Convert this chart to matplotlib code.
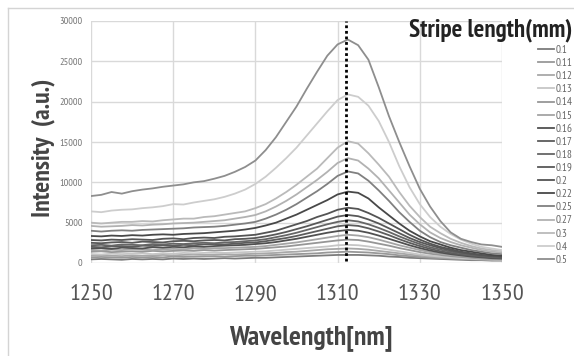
import matplotlib
matplotlib.use("Agg")
import matplotlib.pyplot as plt
from matplotlib import font_manager
from matplotlib.lines import Line2D
import numpy as np

# wavelength grid, 2.5 nm steps from 1250 to 1350
wavelength = np.arange(1250, 1350.1, 2.5)

stripe_labels = ["0.1", "0.11", "0.12", "0.13", "0.14", "0.15", "0.16", "0.17", "0.18",
                 "0.19", "0.2", "0.22", "0.25", "0.27", "0.3", "0.4", "0.5"]

s_010 = [450, 500, 450, 400, 500, 450, 500, 450, 550, 500, 550, 500, 550, 600, 550, 600, 650,
         650, 700, 750, 800, 850, 900, 950, 1000, 1000, 1000, 950, 900, 800, 750, 650, 600,
         550, 500, 450, 400, 350, 350, 300, 300]
s_011 = [700, 750, 700, 650, 750, 700, 750, 700, 800, 750, 800, 800, 850, 800, 850, 900, 900,
         950, 1000, 1050, 1100, 1150, 1200, 1300, 1350, 1400, 1350, 1300, 1200, 1100, 950, 850,
         750, 650, 600, 550, 500, 450, 400, 350, 350]
s_012 = [900, 950, 900, 850, 950, 900, 950, 1000, 950, 1000, 1050, 1000, 1050, 1100, 1050, 1100,
         1150, 1200, 1250, 1350, 1400, 1500, 1600, 1700, 1750, 1800, 1750, 1650, 1500, 1350, 1200,
         1050, 900, 800, 700, 600, 550, 500, 450, 400, 350]
s_013 = [1100, 1050, 1150, 1100, 1150, 1200, 1100, 1200, 1150, 1250, 1200, 1250, 1300, 1250, 1300,
         1350, 1400, 1450, 1550, 1650, 1750, 1850, 1950, 2050, 2200, 2250, 2200, 2050, 1850, 1650,
         1450, 1250, 1050, 900, 800, 700, 600, 550, 500, 450, 400]
s_014 = [1400, 1450, 1350, 1400, 1450, 1400, 1500, 1450, 1500, 1550, 1500, 1600, 1550, 1600, 1650,
         1700, 1750, 1850, 1950, 2050, 2200, 2350, 2500, 2650, 2800, 2900, 2850, 2650, 2400, 2150,
         1850, 1600, 1350, 1150, 1000, 850, 750, 650, 550, 500, 450]
s_015 = [1600, 1550, 1650, 1600, 1700, 1650, 1600, 1700, 1750, 1700, 1800, 1750, 1850, 1850, 1900,
         1950, 2000, 2100, 2250, 2400, 2550, 2750, 2950, 3150, 3350, 3500, 3400, 3200, 2900, 2550,
         2200, 1900, 1600, 1350, 1150, 1000, 850, 750, 650, 550, 500]
s_016 = [1800, 1850, 1750, 1900, 1850, 1800, 1950, 1900, 2000, 1950, 2050, 2000, 2100, 2150, 2200,
         2250, 2350, 2450, 2600, 2800, 3000, 3250, 3500, 3750, 3950, 4100, 4000, 3750, 3400, 3000,
         2600, 2200, 1850, 1550, 1300, 1100, 950, 800, 700, 600, 550]
s_017 = [2000, 1950, 2050, 2100, 2000, 2150, 2100, 2200, 2150, 2250, 2200, 2300, 2350, 2300, 2400,
         2500, 2550, 2700, 2900, 3100, 3350, 3650, 3950, 4250, 4550, 4700, 4600, 4300, 3900, 3450,
         2950, 2500, 2100, 1750, 1450, 1250, 1050, 900, 800, 700, 650]
s_018 = [2200, 2250, 2150, 2300, 2250, 2200, 2350, 2300, 2400, 2350, 2450, 2500, 2450, 2550, 2600,
         2700, 2800, 2950, 3200, 3450, 3750, 4100, 4450, 4800, 5100, 5300, 5150, 4800, 4350, 3850,
         3300, 2800, 2350, 1950, 1650, 1400, 1200, 1000, 900, 800, 700]
s_019 = [2500, 2450, 2550, 2600, 2500, 2650, 2600, 2550, 2700, 2750, 2700, 2800, 2850, 2800, 2950,
         3000, 3100, 3300, 3550, 3850, 4200, 4550, 4950, 5350, 5750, 5950, 5800, 5400, 4900, 4300,
         3700, 3100, 2600, 2200, 1850, 1550, 1300, 1100, 950, 850, 750]
s_020 = [2850, 2800, 2900, 2850, 2950, 2900, 2850, 3000, 3050, 2950, 3100, 3150, 3100, 3250, 3300,
         3400, 3500, 3750, 4000, 4400, 4800, 5200, 5700, 6100, 6600, 6850, 6700, 6200, 5600, 4900,
         4200, 3500, 2900, 2400, 2000, 1700, 1400, 1200, 1000, 900, 800]
s_022 = [3350, 3300, 3400, 3350, 3450, 3400, 3500, 3550, 3500, 3600, 3650, 3700, 3800, 3900, 4000,
         4150, 4350, 4650, 5000, 5500, 6000, 6600, 7200, 7800, 8500, 8850, 8700, 8000, 6900, 5900,
         4900, 4000, 3300, 2700, 2300, 1900, 1600, 1400, 1200, 1000, 900]
s_025 = [4000, 3900, 4000, 4050, 4000, 4100, 4150, 4200, 4250, 4300, 4400, 4450, 4500, 4600, 4750,
         4900, 5100, 5500, 6000, 6600, 7300, 8100, 8900, 9800, 10800, 11350, 11100, 10200, 9000,
         7700, 6300, 5100, 4000, 3200, 2600, 2200, 1900, 1600, 1400, 1200, 1100]
s_027 = [4600, 4500, 4550, 4600, 4700, 4650, 4750, 4800, 4900, 4950, 5000, 5100, 5200, 5300, 5500,
         5700, 5950, 6400, 7000, 7700, 8500, 9400, 10300, 11300, 12400, 13000, 12700, 11700, 10500,
         9000, 7500, 6000, 4800, 3800, 3100, 2600, 2200, 1900, 1600, 1400, 1300]
s_030 = [5000, 4900, 5000, 5100, 5100, 5200, 5150, 5300, 5400, 5500, 5500, 5700, 5800, 6000, 6200,
         6400, 6800, 7300, 8000, 8800, 9700, 10700, 11700, 13000, 14300, 15100, 14800, 13600, 12200,
         10700, 8800, 7100, 5700, 4500, 3700, 3000, 2500, 2100, 1800, 1600, 1500]
s_040 = [6400, 6300, 6500, 6600, 6650, 6800, 6900, 7050, 7300, 7250, 7500, 7700, 7900, 8200, 8600,
         9100, 9800, 10700, 11800, 13000, 14300, 15800, 17300, 18800, 20200, 20900, 20600, 19500,
         17600, 15000, 12000, 9400, 7300, 5700, 4500, 3600, 2900, 2400, 2000, 1800, 1600]
s_050 = [8300, 8450, 8800, 8600, 8900, 9100, 9250, 9450, 9600, 9750, 10000, 10150, 10450, 10800,
         11300, 11900, 12700, 14000, 15600, 17500, 19400, 21600, 23700, 25700, 27100, 27700, 27000,
         25200, 21800, 18200, 15000, 12000, 9200, 7000, 5200, 3800, 3000, 2600, 2300, 2200, 2000]

series = [s_010, s_011, s_012, s_013, s_014, s_015, s_016, s_017, s_018,
          s_019, s_020, s_022, s_025, s_027, s_030, s_040, s_050]

line_colors = ["#7c7c7c", "#989898", "#a8a8a8", "#c6c6c6", "#969696", "#a4a4a4", "#505050",
               "#5c5c5c", "#666666", "#585858", "#545454", "#484848", "#808080", "#b2b2b2",
               "#bababa", "#cdcdcd", "#8e8e8e"]

peak_nm = 1312
x_ticks = [1250, 1270, 1290, 1310, 1330, 1350]
y_ticks = [0, 5000, 10000, 15000, 20000, 25000, 30000]

# pick a narrow face if one is around, else plain DejaVu
installed = {f.name for f in font_manager.fontManager.ttflist}
narrow = next((n for n in ["PT Sans Narrow", "Open Sans Condensed", "Roboto Condensed",
                           "Asap Condensed", "Barlow Semi Condensed"] if n in installed),
              "DejaVu Sans")
plt.rcParams["font.family"] = [narrow, "DejaVu Sans"]

W, H = 574, 356
fig = plt.figure(figsize=(W / 100, H / 100), dpi=100)
ax = fig.add_axes([91 / W, 1 - 263 / H, (502 - 91) / W, (263 - 21) / H])

for vals, col in zip(series, line_colors):
    ax.plot(wavelength, vals, color=col, lw=1.3)

ax.axvline(peak_nm, ymin=0.01, ymax=1.0, color="black", lw=2.0, ls=(0, (1, 1)), zorder=5)

ax.set_xlim(1250, 1350)
ax.set_ylim(0, 30000)
ax.set_xticks(x_ticks)
ax.set_yticks(y_ticks)
ax.grid(True, color="#d9d9d9", lw=1)
ax.set_axisbelow(True)
for sp in ax.spines.values():
    sp.set_visible(False)
ax.tick_params(axis="x", length=0, pad=15, labelsize=17.5, labelcolor="#555555")
ax.tick_params(axis="y", length=0, pad=6, labelsize=7.5, labelcolor="#777777")

fig.text(311 / W, 1 - 338 / H, "Wavelength[nm]", ha="center", va="center",
         fontsize=20, fontweight="bold", color="#444444")
fig.text(43 / W, 1 - 148 / H, "Intensity  (a.u.)", ha="center", va="center",
         rotation=90, fontsize=18.5, fontweight="bold", color="#444444")
fig.text(409 / W, 1 - 30 / H, "Stripe length(mm)", ha="left", va="center",
         fontsize=18, fontweight="bold", color="#222222")

handles = [Line2D([], [], color=c, lw=1.3) for c in line_colors]
fig.legend(handles, stripe_labels, loc="upper left", bbox_to_anchor=(538 / W, 1 - 45 / H),
           frameon=False, fontsize=8, labelcolor="#666666", handlelength=1.4,
           handletextpad=0.2, labelspacing=0.28, borderpad=0, borderaxespad=0)

# outer frame, only top and left edges fall inside the picture
fig.add_artist(Line2D([8 / W, 8 / W], [0, 1 - 8 / H], color="#d4d4d4", lw=1))
fig.add_artist(Line2D([8 / W, 1], [1 - 8 / H, 1 - 8 / H], color="#d4d4d4", lw=1))

fig.savefig("out.png", dpi=100)
